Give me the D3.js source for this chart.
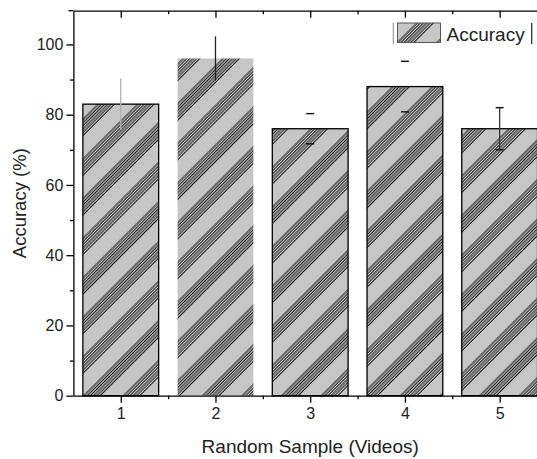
<!DOCTYPE html>
<html>
<head>
<meta charset="utf-8">
<script src="https://cdn.jsdelivr.net/npm/d3@7"></script>
<style>
  body { margin: 0; background: #fff; }
  svg { display: block; font-family: "Liberation Sans", Arial, sans-serif; }
  .axis path, .axis line { stroke: #000; stroke-width: 1.3; }
  .axis text { font-size: 16px; fill: #222; }
</style>
</head>
<body>
<svg id="chart" width="537" height="459"></svg>
<script>
// ===========
// DATA
// ===========
const samples = [1, 2, 3, 4, 5];
const accuracy = [83, 96, 76, 88, 76];
const accuracyErr = [7.3, 6.3, 4.3, 7.2, 6.0];
const yTicks = [0, 20, 40, 60, 80, 100];
const yMinorTicks = [10, 30, 50, 70, 90];
const xMinorTicks = [1.5, 2.5, 3.5, 4.5];

// how each error bar shows up in the picture (some lost their stems / caps)
const errLook = [
  { stem: "#b0b0b0", caps: false },
  { stem: "#222", caps: false },
  { stem: null, caps: true },
  { stem: null, caps: true },
  { stem: "#333", caps: true }
];
const barOutline = [true, false, true, true, true];

// ===========
// SCALES
// ===========
const svg = d3.select("#chart");
const plotLeft = 73.4, plotRight = 547, plotTop = 10.7, plotBottom = 395.7;

const x = d3.scaleLinear().domain([0.5, 5.5]).range([plotLeft, plotRight]);
const y = d3.scaleLinear().domain([0, 109.6]).range([plotBottom, plotTop]);
const barW = (x(2) - x(1)) * 0.8;

// ===========
// HATCH PATTERN
// ===========
const defs = svg.append("defs");
const pat = defs.append("pattern")
  .attr("id", "hatch")
  .attr("patternUnits", "userSpaceOnUse")
  .attr("width", 28)
  .attr("height", 28)
  .attr("patternTransform", "translate(3,0) rotate(45)");
pat.append("rect").attr("width", 28).attr("height", 28).attr("fill", "#c6c6c6");
d3.range(6).forEach(function(k) {
  pat.append("line")
    .attr("x1", 1 + k * 2.3).attr("x2", 1 + k * 2.3)
    .attr("y1", 0).attr("y2", 28)
    .attr("stroke", "#111")
    .attr("stroke-width", 1);
});

// ===========
// BARS
// ===========
svg.append("g")
  .selectAll("rect")
  .data(samples)
  .enter()
  .append("rect")
    .attr("x", function(d) { return x(d) - barW / 2; })
    .attr("y", function(d, i) { return y(accuracy[i]); })
    .attr("width", barW)
    .attr("height", function(d, i) { return y(0) - y(accuracy[i]); })
    .attr("fill", "url(#hatch)")
    .attr("stroke", function(d, i) { return barOutline[i] ? "#000" : "none"; })
    .attr("stroke-width", 1.3);

// ===========
// ERROR BARS
// ===========
const eg = svg.append("g");
samples.forEach(function(d, i) {
  const cx = x(d);
  const hi = y(accuracy[i] + accuracyErr[i]);
  const lo = y(accuracy[i] - accuracyErr[i]);
  const look = errLook[i];
  if (look.stem) {
    eg.append("line")
      .attr("x1", cx).attr("x2", cx)
      .attr("y1", hi).attr("y2", lo)
      .attr("stroke", look.stem)
      .attr("stroke-width", 1.3);
  }
  if (look.caps) {
    [hi, lo].forEach(function(cy) {
      eg.append("line")
        .attr("x1", cx - 4).attr("x2", cx + 4)
        .attr("y1", cy).attr("y2", cy)
        .attr("stroke", "#111")
        .attr("stroke-width", 1.4);
    });
  }
});

// ===========
// AXES
// ===========
// bottom
svg.append("g")
  .attr("class", "axis")
  .attr("transform", "translate(0," + plotBottom + ")")
  .call(d3.axisBottom(x).tickValues(samples).tickSize(7).tickSizeOuter(0).tickPadding(5)
    .tickFormat(d3.format("d")));
svg.append("g")
  .attr("class", "axis")
  .attr("transform", "translate(0," + plotBottom + ")")
  .call(d3.axisBottom(x).tickValues(xMinorTicks).tickSize(3.5).tickSizeOuter(0).tickFormat(""))
  .select(".domain").remove();

// top (ticks point inward)
svg.append("g")
  .attr("class", "axis")
  .attr("transform", "translate(0," + plotTop + ")")
  .call(d3.axisBottom(x).tickValues(samples).tickSize(7).tickSizeOuter(0).tickFormat(""));
svg.append("g")
  .attr("class", "axis")
  .attr("transform", "translate(0," + plotTop + ")")
  .call(d3.axisBottom(x).tickValues(xMinorTicks).tickSize(3.5).tickSizeOuter(0).tickFormat(""))
  .select(".domain").remove();
svg.append("line")
  .attr("x1", plotLeft - 5).attr("x2", plotLeft)
  .attr("y1", plotTop).attr("y2", plotTop)
  .attr("stroke", "#000").attr("stroke-width", 1.3);

// left
svg.append("g")
  .attr("class", "axis")
  .attr("transform", "translate(" + plotLeft + ",0)")
  .call(d3.axisLeft(y).tickValues(yTicks).tickSize(7).tickSizeOuter(0).tickPadding(3));
svg.append("g")
  .attr("class", "axis")
  .attr("transform", "translate(" + plotLeft + ",0)")
  .call(d3.axisLeft(y).tickValues(yMinorTicks).tickSize(3.5).tickSizeOuter(0).tickFormat(""))
  .select(".domain").remove();

// ===========
// AXIS TITLES
// ===========
svg.append("text")
  .attr("x", (plotLeft + plotRight) / 2)
  .attr("y", 453)
  .attr("text-anchor", "middle")
  .attr("font-size", 19)
  .attr("fill", "#222")
  .text("Random Sample (Videos)");

svg.append("text")
  .attr("text-anchor", "middle")
  .attr("transform", "translate(25.5," + ((plotTop + plotBottom) / 2) + ")rotate(-90)")
  .attr("font-size", 18.5)
  .attr("fill", "#222")
  .text("Accuracy (%)");

// ===========
// LEGEND
// ===========
const lg = svg.append("g");
lg.append("line")
  .attr("x1", 393.3).attr("x2", 393.3).attr("y1", 23).attr("y2", 44)
  .attr("stroke", "#888").attr("stroke-width", 1);
lg.append("rect")
  .attr("x", 397.5).attr("y", 23)
  .attr("width", 43).attr("height", 19.5)
  .attr("fill", "url(#hatch)")
  .attr("stroke", "#555").attr("stroke-width", 1);
lg.append("text")
  .attr("x", 446.5).attr("y", 41)
  .attr("font-size", 19)
  .attr("fill", "#222")
  .text("Accuracy");
lg.append("line")
  .attr("x1", 531.7).attr("x2", 531.7).attr("y1", 23).attr("y2", 44)
  .attr("stroke", "#333").attr("stroke-width", 1.3);
</script>
</body>
</html>
